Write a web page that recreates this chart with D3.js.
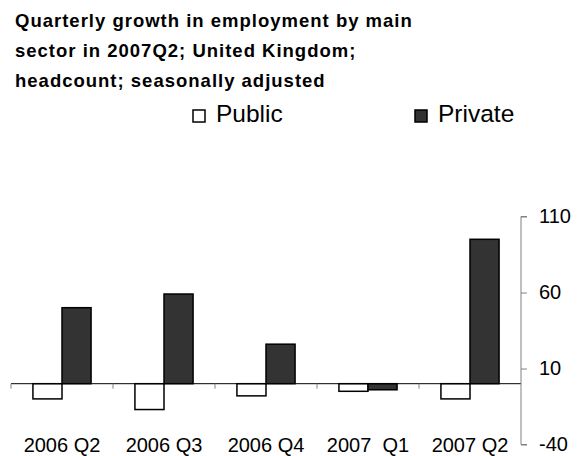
<!DOCTYPE html>
<html>
<head>
<meta charset="utf-8">
<script src="https://cdnjs.cloudflare.com/ajax/libs/d3/7.8.5/d3.min.js"></script>
<style>
  html, body { margin: 0; padding: 0; background: #fff; }
  svg { display: block; font-family: "Liberation Sans", Arial, sans-serif; }
</style>
</head>
<body>
<svg id="chart" width="587" height="456"></svg>
<script>
const titleLines = [
  "Quarterly growth in employment by main",
  "sector in 2007Q2; United Kingdom;",
  "headcount; seasonally adjusted"
];
const categories = ["2006 Q2", "2006 Q3", "2006 Q4", "2007  Q1", "2007 Q2"];
const seriesNames = ["Public", "Private"];
const publicValues = [-10, -17, -8, -5, -10];
const privateValues = [50, 59, 26, -4, 95];
const yTicks = [-40, 10, 60, 110];

const seriesValues = [publicValues, privateValues];
const fills = ["#ffffff", "#333333"];
const FONT = "'Liberation Sans', Arial, sans-serif";

const svg = d3.select("#chart");

// Title
svg.append("g").selectAll("text")
  .data(titleLines)
  .join("text")
  .attr("x", 15)
  .attr("y", (d, i) => 27 + i * 30)
  .attr("font-family", FONT)
  .attr("font-size", "18.5px")
  .attr("font-weight", "bold")
  .attr("letter-spacing", "1px")
  .attr("fill", "#000")
  .text(d => d);

// Scales
const x0 = d3.scaleBand().domain(categories).range([11, 521]).paddingInner(0.43).paddingOuter(0.215);
const x1 = d3.scaleBand().domain(seriesNames).range([0, x0.bandwidth()]);
const y = d3.scaleLinear().domain([-40, 110]).range([444.5, 216.5]);
const step = x0.step();
const left = 11;

// Bars
const groups = svg.append("g").selectAll("g")
  .data(categories)
  .join("g")
  .attr("transform", d => `translate(${x0(d)},0)`);

groups.selectAll("rect")
  .data((d, i) => seriesNames.map((s, j) => ({ s, v: seriesValues[j][i], j })))
  .join("rect")
  .attr("x", d => x1(d.s))
  .attr("width", x1.bandwidth())
  .attr("y", d => y(Math.max(0, d.v)))
  .attr("height", d => Math.abs(y(d.v) - y(0)))
  .attr("fill", d => fills[d.j])
  .attr("stroke", "#000")
  .attr("stroke-width", 1.5);

// Zero line (category axis)
svg.append("line")
  .attr("x1", left).attr("x2", 521)
  .attr("y1", y(0)).attr("y2", y(0))
  .attr("stroke", "#000").attr("stroke-width", 1);

// Category boundary ticks
svg.append("g").selectAll("line")
  .data(categories)
  .join("line")
  .attr("x1", (d, i) => left + i * step)
  .attr("x2", (d, i) => left + i * step)
  .attr("y1", y(0)).attr("y2", y(0) + 5)
  .attr("stroke", "#808080").attr("stroke-width", 1);

// Category labels
svg.append("g").selectAll("text")
  .data(categories)
  .join("text")
  .attr("x", d => x0(d) + x0.bandwidth() / 2)
  .attr("y", 452)
  .attr("text-anchor", "middle")
  .attr("font-family", FONT)
  .attr("font-size", "20px")
  .attr("fill", "#000")
  .style("white-space", "pre")
  .attr("xml:space", "preserve")
  .text(d => d);

// Right value axis
const axis = d3.axisRight(y).tickValues(yTicks).tickSize(6).tickPadding(12).tickFormat(d => String(d));
const ag = svg.append("g").attr("transform", "translate(521,0)").call(axis);
ag.select(".domain").attr("stroke", "#808080").attr("d", `M6,${y(110)}H0V${y(-40)}H6`);
ag.selectAll(".tick line").attr("stroke", "#808080");
ag.selectAll(".tick text").attr("font-size", "20px").attr("fill", "#000")
  .attr("font-family", FONT);

// Legend
const legendItems = [
  { name: "Public", fill: fills[0], x: 193 },
  { name: "Private", fill: fills[1], x: 415 }
];
const lg = svg.append("g").selectAll("g")
  .data(legendItems)
  .join("g")
  .attr("transform", d => `translate(${d.x},110)`);
lg.append("rect")
  .attr("width", 12).attr("height", 12)
  .attr("fill", d => d.fill)
  .attr("stroke", "#000").attr("stroke-width", 1.5);
lg.append("text")
  .attr("x", 23).attr("y", 12)
  .attr("font-family", FONT)
  .attr("font-size", "24.5px")
  .attr("fill", "#000")
  .text(d => d.name);
</script>
</body>
</html>
